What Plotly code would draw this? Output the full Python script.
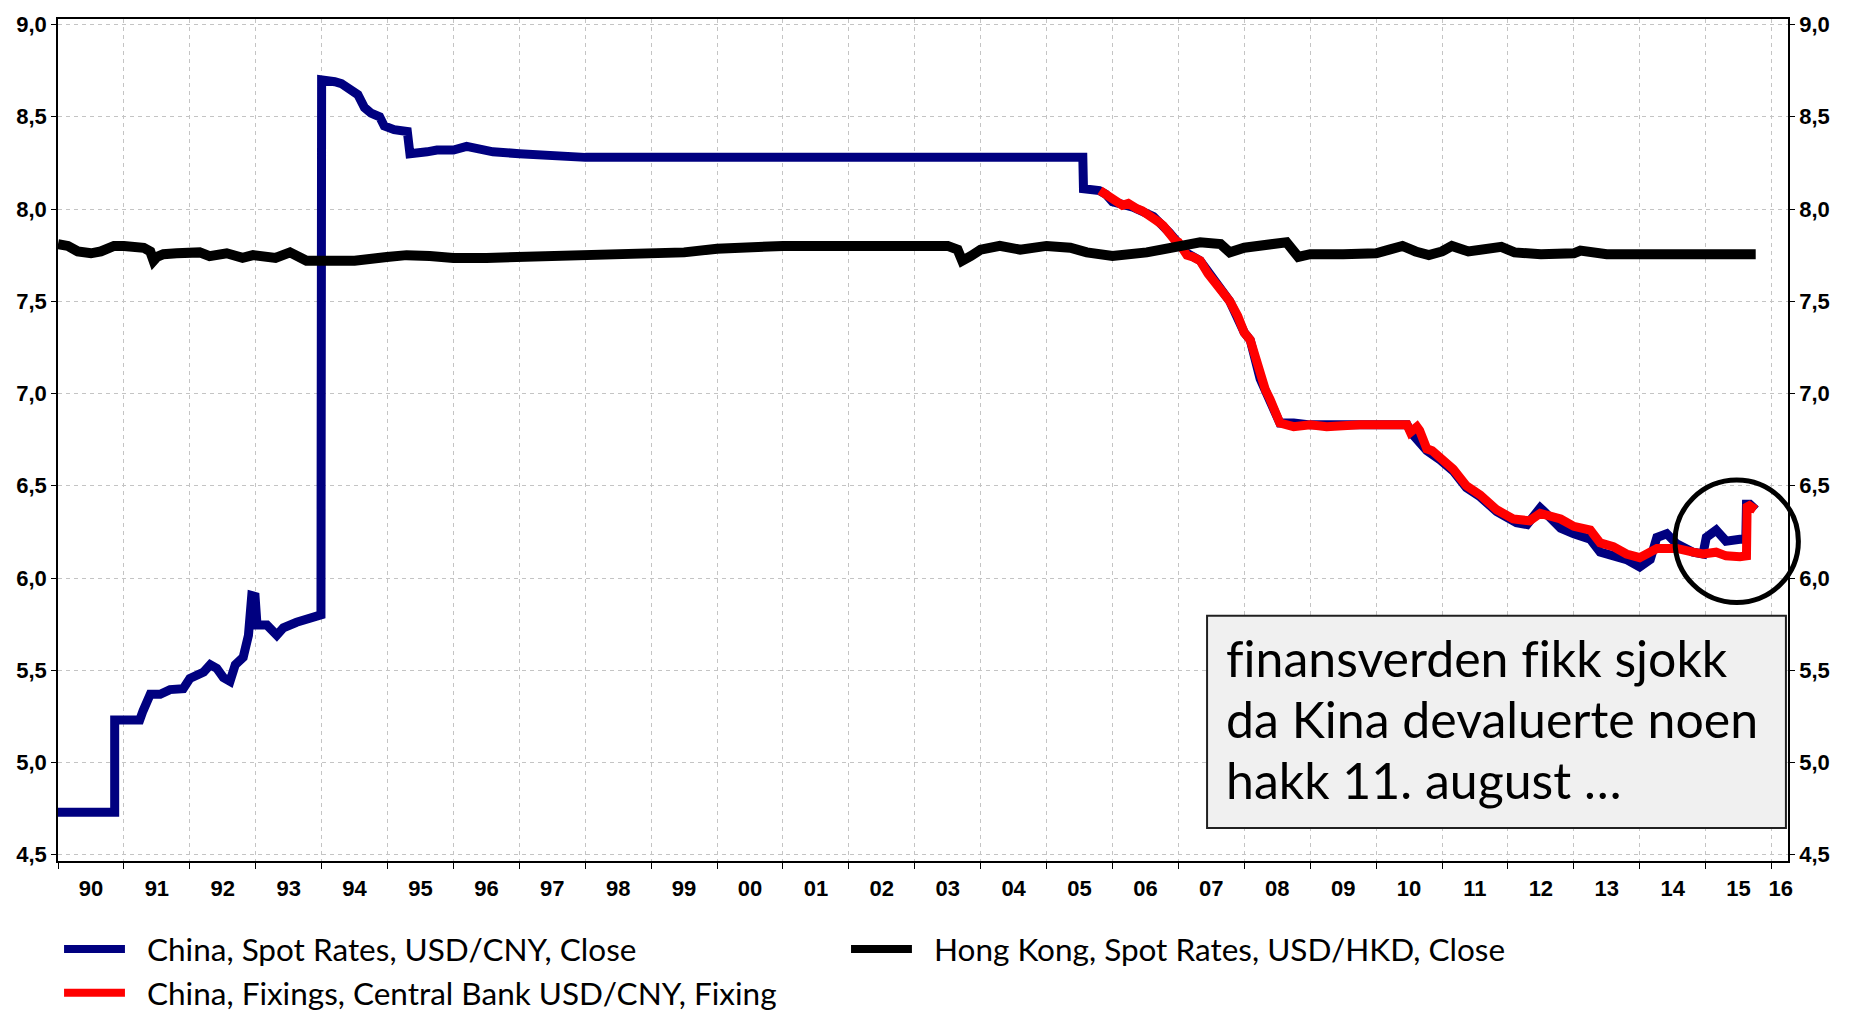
import plotly.graph_objects as go

# China spot USD/CNY (close)
spot_year = [1990.00, 1990.86, 1990.86, 1991.24, 1991.29, 1991.40, 1991.55, 1991.70, 1991.90,
             1992.00, 1992.21, 1992.31, 1992.41, 1992.51, 1992.61, 1992.69, 1992.81, 1992.89,
             1992.94, 1992.99, 1993.02, 1993.17, 1993.32, 1993.42, 1993.62, 1993.82, 1993.99,
             1994.00, 1994.10, 1994.20, 1994.30, 1994.45, 1994.55, 1994.65, 1994.75, 1994.88,
             1994.95, 1995.10, 1995.30, 1995.34, 1995.50, 1995.60, 1995.75, 1996.00, 1996.20,
             1996.30, 1996.60, 1997.00, 1997.50, 1998.00, 1999.00, 2000.00, 2001.00, 2002.00,
             2003.00, 2004.00, 2005.55, 2005.56, 2005.70, 2005.80, 2005.90, 2006.00, 2006.31,
             2006.62, 2006.87, 2007.00, 2007.13, 2007.33, 2007.58, 2007.78, 2008.00, 2008.09,
             2008.24, 2008.39, 2008.54, 2008.75, 2009.00, 2009.50, 2010.00, 2010.47, 2010.55,
             2010.77, 2010.97, 2011.17, 2011.37, 2011.58, 2011.83, 2012.13, 2012.29, 2012.49,
             2012.55, 2012.80, 2013.00, 2013.25, 2013.40, 2013.60, 2013.80, 2014.00, 2014.10,
             2014.16, 2014.26, 2014.41, 2014.56, 2014.81, 2014.96, 2015.01, 2015.16, 2015.31,
             2015.52, 2015.61, 2015.62, 2015.67, 2015.76]
spot_rate = [4.73, 4.73, 5.23, 5.23, 5.28, 5.37, 5.37, 5.395, 5.40,
             5.455, 5.49, 5.53, 5.51, 5.46, 5.44, 5.53, 5.57, 5.69,
             5.905, 5.90, 5.745, 5.745, 5.69, 5.73, 5.76, 5.78, 5.80,
             8.70, 8.70, 8.69, 8.68, 8.65, 8.62, 8.55, 8.52, 8.50,
             8.45, 8.43, 8.42, 8.30, 8.30, 8.31, 8.32, 8.32, 8.34,
             8.33, 8.31, 8.30, 8.29, 8.28, 8.28, 8.28, 8.28, 8.28,
             8.28, 8.28, 8.28, 8.11, 8.10, 8.10, 8.08, 8.04, 8.01,
             7.96, 7.87, 7.81, 7.76, 7.72, 7.59, 7.50, 7.33, 7.29,
             7.08, 6.96, 6.84, 6.84, 6.83, 6.83, 6.83, 6.83, 6.78,
             6.69, 6.64, 6.58, 6.49, 6.44, 6.36, 6.30, 6.29, 6.38,
             6.36, 6.27, 6.24, 6.21, 6.14, 6.12, 6.10, 6.06, 6.08,
             6.10, 6.22, 6.24, 6.185, 6.14, 6.13, 6.22, 6.26, 6.20,
             6.21, 6.21, 6.40, 6.40, 6.37]

# China central bank fixing USD/CNY
fix_year = [2005.81, 2005.92, 2006.00, 2006.08, 2006.15, 2006.24, 2006.31, 2006.38, 2006.45,
            2006.55, 2006.62, 2006.70, 2006.77, 2006.87, 2006.95, 2007.00, 2007.13, 2007.22,
            2007.33, 2007.45, 2007.52, 2007.58, 2007.70, 2007.78, 2007.90, 2008.00, 2008.09,
            2008.24, 2008.32, 2008.39, 2008.46, 2008.54, 2008.75, 2009.00, 2009.25, 2009.50,
            2009.75, 2010.00, 2010.47, 2010.52, 2010.62, 2010.66, 2010.77, 2010.85, 2010.97,
            2011.17, 2011.37, 2011.58, 2011.83, 2012.08, 2012.33, 2012.49, 2012.80, 2013.00,
            2013.25, 2013.40, 2013.60, 2013.80, 2014.00, 2014.26, 2014.41, 2014.56, 2014.81,
            2014.96, 2015.16, 2015.31, 2015.52, 2015.62, 2015.63, 2015.68, 2015.76]
fix_rate = [8.10, 8.07, 8.05, 8.04, 8.02, 8.03, 8.01, 8.00, 7.99,
            7.97, 7.95, 7.93, 7.91, 7.86, 7.83, 7.82, 7.75, 7.74,
            7.72, 7.65, 7.62, 7.58, 7.53, 7.50, 7.42, 7.33, 7.29,
            7.09, 7.02, 6.97, 6.90, 6.84, 6.82, 6.83, 6.82, 6.83,
            6.83, 6.83, 6.83, 6.79, 6.82, 6.80, 6.70, 6.69, 6.65,
            6.59, 6.50, 6.45, 6.37, 6.32, 6.31, 6.35, 6.32, 6.28,
            6.26, 6.19, 6.17, 6.13, 6.11, 6.16, 6.16, 6.16, 6.14,
            6.13, 6.14, 6.12, 6.115, 6.12, 6.40, 6.39, 6.37]

# Hong Kong spot USD/HKD (close)
hk_year = [1990.00, 1990.15, 1990.30, 1990.50, 1990.65, 1990.75, 1990.85, 1991.00, 1991.30,
           1991.40, 1991.45, 1991.50, 1991.60, 1991.80, 1992.00, 1992.15, 1992.30, 1992.56,
           1992.80, 1992.96, 1993.30, 1993.52, 1993.77, 1994.00, 1994.13, 1994.50, 1994.99,
           1995.29, 1995.64, 1996.00, 1996.50, 1997.00, 1997.50, 1998.00, 1998.50, 1999.00,
           1999.50, 2000.00, 2000.50, 2001.00, 2002.00, 2003.00, 2003.50, 2003.65, 2003.72,
           2003.85, 2004.00, 2004.29, 2004.60, 2005.00, 2005.36, 2005.61, 2006.00, 2006.52,
           2007.00, 2007.33, 2007.64, 2007.78, 2008.00, 2008.34, 2008.64, 2008.82, 2009.00,
           2009.50, 2010.00, 2010.20, 2010.40, 2010.60, 2010.80, 2011.00, 2011.15, 2011.40,
           2011.70, 2011.90, 2012.10, 2012.50, 2013.00, 2013.10, 2013.50, 2014.00, 2014.50,
           2015.00, 2015.50, 2015.76]
hk_rate = [7.81, 7.80, 7.77, 7.76, 7.77, 7.79, 7.80, 7.80, 7.79,
           7.77, 7.72, 7.74, 7.755, 7.76, 7.77, 7.765, 7.745, 7.76,
           7.735, 7.75, 7.735, 7.765, 7.72, 7.72, 7.73, 7.72, 7.74,
           7.75, 7.745, 7.735, 7.735, 7.74, 7.74, 7.745, 7.745, 7.75,
           7.765, 7.785, 7.795, 7.80, 7.80, 7.80, 7.80, 7.78, 7.72,
           7.745, 7.78, 7.80, 7.78, 7.80, 7.79, 7.765, 7.745, 7.765,
           7.80, 7.82, 7.81, 7.765, 7.79, 7.81, 7.82, 7.74, 7.755,
           7.755, 7.76, 7.78, 7.80, 7.77, 7.75, 7.77, 7.80, 7.77,
           7.79, 7.795, 7.765, 7.755, 7.76, 7.775, 7.755, 7.755, 7.755,
           7.755, 7.755, 7.755]

year_ticks = list(range(1990, 2017))
year_labels = ["90", "91", "92", "93", "94", "95", "96", "97", "98", "99", "00", "01", "02",
               "03", "04", "05", "06", "07", "08", "09", "10", "11", "12", "13", "14", "15", "16"]
label_pos = [y + 0.5 for y in year_ticks[:-1]] + [2016.14]
y_ticks = [4.5, 5.0, 5.5, 6.0, 6.5, 7.0, 7.5, 8.0, 8.5, 9.0]

legend_items = [
    ("China, Spot Rates, USD/CNY, Close", "#000080"),
    ("China, Fixings, Central Bank USD/CNY, Fixing", "#ff0000"),
    ("Hong Kong, Spot Rates, USD/HKD, Close", "#000000"),
]
# zero-width non-joiner keeps the font from drawing an "fi" ligature
note_lines = ["f\u200cinansverden f\u200cikk sjokk", "da Kina devaluerte noen",
              "hakk 11. august \u2026"]

Y_RANGE = [4.466, 9.030]
X_RANGE = [1990.0, 2016.25]
GRID = "#c4c4c4"
TICK_FONT = dict(family="Liberation Sans, Arial", size=22, color="black", weight="bold")
TEXT_FONT = "Lato, Carlito, Calibri"

fig = go.Figure()
fig.add_trace(go.Scatter(x=spot_year, y=spot_rate, mode="lines",
                         line=dict(color="#000080", width=9), showlegend=False))
fig.add_trace(go.Scatter(x=fix_year, y=fix_rate, mode="lines",
                         line=dict(color="#ff0000", width=9), showlegend=False))
fig.add_trace(go.Scatter(x=hk_year, y=hk_rate, mode="lines", yaxis="y2",
                         line=dict(color="#000000", width=10), showlegend=False))

fig.update_layout(
    width=1849, height=1012,
    margin=dict(l=58, r=61, t=12, b=151),
    plot_bgcolor="white", paper_bgcolor="white",
    separators=", ",
    showlegend=False,
    xaxis=dict(
        range=X_RANGE, tickmode="array", tickvals=label_pos, ticktext=year_labels,
        ticks="", showgrid=False, zeroline=False, tickfont=TICK_FONT,
        ticklabelstandoff=7,
        showline=True, linecolor="black", linewidth=1.5, mirror=True,
        minor=dict(tickmode="array", tickvals=year_ticks, ticks="outside", ticklen=6,
                   tickcolor="black", showgrid=True, gridcolor=GRID, griddash="4px,4px",
                   gridwidth=1),
    ),
    yaxis=dict(
        range=Y_RANGE, tickmode="array", tickvals=y_ticks, tickformat=".1f",
        ticks="outside", ticklen=5, tickcolor="black", tickfont=TICK_FONT,
        showgrid=True, gridcolor=GRID, griddash="4px,4px", gridwidth=1, zeroline=False,
        showline=True, linecolor="black", linewidth=1.5,
    ),
    yaxis2=dict(
        range=Y_RANGE, overlaying="y", side="right", tickmode="array", tickvals=y_ticks,
        tickformat=".1f", ticks="outside", ticklen=5, tickcolor="black", tickfont=TICK_FONT,
        showgrid=False, zeroline=False, showline=True, linecolor="black", linewidth=1.5,
    ),
)

# ring round the August 2015 jump (paper coordinates so it is not clipped)
fig.add_shape(type="circle", xref="paper", yref="paper", x0=0.9347, x1=1.0060,
              y0=0.3070, y1=0.4525, line=dict(color="black", width=5), layer="above")

# grey text box
fig.add_shape(type="rect", xref="paper", yref="paper", x0=0.6642, x1=0.9988,
              y0=0.0392, y1=0.2914, fillcolor="#f0f0f0",
              line=dict(color="#202020", width=2), layer="above")
for line_txt, ypos in zip(note_lines, [0.2407, 0.1689, 0.0958]):
    fig.add_annotation(xref="paper", yref="paper", x=0.6740, y=ypos, text=line_txt,
                       showarrow=False, xanchor="left", yanchor="middle",
                       font=dict(family=TEXT_FONT, size=50, color="black"))

# legend drawn by hand: two columns below the plot
legend_pos = [(0.0035, -0.1045), (0.0035, -0.1564), (0.4584, -0.1045)]
for (name, color), (lx, ly) in zip(legend_items, legend_pos):
    fig.add_shape(type="line", xref="paper", yref="paper", x0=lx, x1=lx + 0.0352,
                  y0=ly, y1=ly, line=dict(color=color, width=8))
    fig.add_annotation(xref="paper", yref="paper", x=lx + 0.0468, y=ly, text=name,
                       showarrow=False, xanchor="left", yanchor="middle",
                       font=dict(family=TEXT_FONT, size=31.5, color="black"))

fig.write_html("out.html", config={"displayModeBar": False},
               post_script="document.body.style.margin='0';")
